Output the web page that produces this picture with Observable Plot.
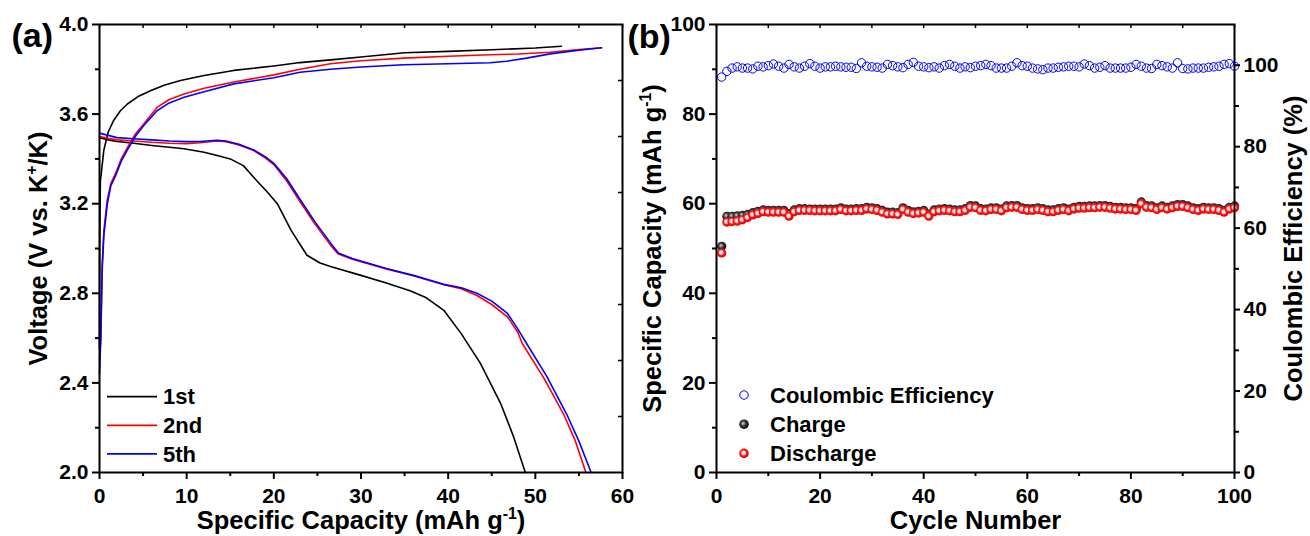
<!DOCTYPE html>
<html><head><meta charset="utf-8">
<script src="https://cdn.jsdelivr.net/npm/d3@7"></script>
<script src="https://cdn.jsdelivr.net/npm/@observablehq/plot@0.6"></script>
<style>
html,body{margin:0;padding:0;background:#fff;}
#wrap{position:relative;width:1310px;height:536px;overflow:hidden;}
#wrap svg{overflow:visible;position:absolute;top:0;}
#wrap svg text{font-weight:bold !important;font-family:'Liberation Sans', Arial, sans-serif !important;}
#wrap svg text.tick{font-size:21px !important;}
</style></head><body>
<svg width="0" height="0" style="position:absolute">
<defs>
<radialGradient id="sphBlack" cx="0.42" cy="0.42" r="0.6"><stop offset="0" stop-color="#d8d8d8"/><stop offset="0.45" stop-color="#3a3a3a"/><stop offset="1" stop-color="#000"/></radialGradient>
<radialGradient id="sphRed" cx="0.45" cy="0.45" r="0.6"><stop offset="0" stop-color="#ffffff"/><stop offset="0.3" stop-color="#ffd8d8"/><stop offset="0.55" stop-color="#ff1010"/><stop offset="1" stop-color="#e00000"/></radialGradient>
</defs></svg>
<div id="wrap"></div>
<script>
// ---------- Panel (a): voltage profiles, [capacity mAh/g, voltage V] ----------
const firstCharge = [[0,2.55],[0.02,3.0],[0.1,3.3],[0.5,3.44],[1.0,3.52],[1.6,3.57],[2.4,3.615],[3.2,3.645],[4.5,3.68],[5.9,3.705],[7.5,3.73],[9.3,3.75],[12,3.772],[15.4,3.795],[20,3.815],[23,3.83],[26.5,3.842],[30,3.855],[35,3.874],[40,3.88],[45,3.887],[50,3.895],[53,3.903]];
const firstDischarge = [[0,3.495],[1,3.485],[2,3.478],[3.93,3.47],[6,3.46],[8,3.452],[9.7,3.445],[12,3.43],[13.5,3.415],[15,3.40],[16.5,3.37],[18.1,3.30],[19.3,3.25],[20.4,3.20],[22,3.08],[23.8,2.97],[25.3,2.935],[26.5,2.92],[30,2.88],[33,2.845],[35.7,2.81],[37.5,2.78],[39.5,2.724],[41.5,2.62],[43.7,2.487],[46.0,2.31],[47.5,2.16],[48.85,2.0]];
const secondCharge = [[0,2.5],[0.15,2.6],[0.3,2.92],[0.5,3.08],[0.88,3.215],[1.3,3.29],[1.83,3.334],[2.5,3.40],[3.2,3.45],[4.1,3.51],[5.1,3.557],[6.6,3.63],[8,3.665],[9.7,3.69],[12,3.715],[15.4,3.743],[20,3.775],[23,3.80],[26.5,3.825],[30,3.838],[34.9,3.85],[40,3.858],[44.8,3.865],[48,3.868],[51.7,3.876],[55,3.888],[57.6,3.896]];
const secondDischarge = [[0,3.50],[1,3.492],[2,3.485],[3.93,3.48],[6,3.474],[8,3.47],[10,3.468],[11.5,3.472],[13.5,3.48],[14.5,3.477],[16,3.462],[17.7,3.437],[19,3.405],[20,3.375],[21.5,3.30],[23,3.21],[24.7,3.11],[26.5,3.015],[27.4,2.975],[29,2.952],[33,2.908],[36,2.878],[39.5,2.838],[41.5,2.82],[43.3,2.79],[45,2.75],[46.8,2.695],[48,2.625],[48.5,2.576],[51,2.42],[53.25,2.26],[54.6,2.14],[55.8,2.0]];
const fifthCharge = [[0,2.44],[0.15,2.6],[0.3,2.9],[0.5,3.06],[0.9,3.2],[1.3,3.28],[1.9,3.33],[2.5,3.39],[3.2,3.44],[4.1,3.50],[5.1,3.55],[6.6,3.615],[8,3.65],[9.7,3.675],[12,3.70],[15.4,3.735],[20,3.762],[23,3.787],[26.5,3.80],[30,3.81],[34.9,3.82],[40,3.825],[44.8,3.829],[46.7,3.836],[49,3.85],[51.7,3.869],[55,3.885],[57.6,3.896]];
const fifthDischarge = [[0,3.515],[1,3.505],[2,3.495],[3.93,3.49],[6,3.485],[8,3.48],[10,3.477],[11.5,3.478],[13.5,3.483],[14.5,3.48],[16,3.465],[17.7,3.44],[19,3.41],[20,3.38],[21.5,3.31],[23,3.22],[24.7,3.12],[26.5,3.025],[27.4,2.98],[29,2.955],[33,2.91],[36,2.88],[39.5,2.84],[41.5,2.825],[43.3,2.80],[45,2.765],[46.8,2.71],[48,2.64],[49,2.576],[51.3,2.43],[53.6,2.26],[55,2.14],[56.4,2.0]];
const cycleNames = ["1st","2nd","5th"];
const cycleColors = ["#000000","#ff0000","#0000ff"];
const capTicksA = [0,10,20,30,40,50,60];
const capMinorA = [5,15,25,35,45,55];
const voltTicks = [2.0,2.4,2.8,3.2,3.6,4.0];
const voltMinor = [2.2,2.6,3.0,3.4,3.8];
const voltRightTicks = [2.25,2.5,2.75,3.0,3.25,3.5,3.75];

// ---------- Panel (b): cycling ----------
const cycles = d3.range(1, 101);
const chargeCap = [50.5,57.2,57.2,57.3,57.4,57.6,58.0,58.3,58.6,58.5,58.5,58.5,58.5,57.8,58.6,58.9,58.9,58.8,58.8,58.8,58.8,58.8,58.8,59.1,58.8,58.8,58.9,58.9,59.2,59.1,58.9,58.5,58.1,58.1,58.0,59.1,58.5,58.2,58.3,58.5,57.7,58.6,58.8,58.9,58.8,58.6,58.6,58.9,59.6,59.5,58.9,58.8,59.1,59.1,58.8,59.5,59.6,59.6,59.1,58.9,58.9,59.1,58.9,58.6,58.6,58.9,59.1,58.8,59.2,59.4,59.4,59.5,59.5,59.6,59.6,59.4,59.2,59.2,59.1,59.1,58.9,60.4,59.6,59.5,59.1,59.5,59.2,59.5,59.8,59.8,59.5,59.1,58.9,59.2,59.1,59.1,58.9,58.5,59.2,59.5];
const dischargeCap = [49.0,55.9,56.0,56.1,56.4,56.9,57.5,57.8,58.2,58.1,58.1,58.1,58.1,57.2,58.2,58.5,58.5,58.5,58.4,58.4,58.4,58.4,58.4,58.7,58.4,58.4,58.5,58.5,58.8,58.7,58.5,58.1,57.7,57.7,57.6,58.7,58.1,57.8,57.9,58.1,57.2,58.2,58.4,58.5,58.4,58.2,58.2,58.5,59.2,59.1,58.5,58.4,58.7,58.7,58.4,59.1,59.2,59.2,58.7,58.5,58.5,58.7,58.5,58.2,58.2,58.5,58.7,58.4,58.8,59.0,59.0,59.1,59.1,59.2,59.2,59.0,58.8,58.8,58.7,58.7,58.5,60.0,59.2,59.1,58.7,59.1,58.8,59.1,59.4,59.4,59.1,58.7,58.5,58.8,58.7,58.7,58.5,58.1,58.8,59.1];
const coulombicEff = [97.1,98.5,99.3,99.6,99.3,99.3,99.1,99.75,99.6,99.9,100.3,99.75,99.3,100.2,99.6,99.3,99.75,100.4,99.75,99.3,99.6,99.6,99.75,99.6,99.5,99.5,99.2,100.6,99.75,99.6,99.5,99.3,100.2,99.9,99.6,99.4,100.2,100.7,99.75,99.6,99.4,99.6,99.3,99.9,100.2,99.75,99.3,99.6,99.4,99.75,99.9,100.2,99.9,99.3,99.3,99.3,99.75,100.6,99.9,99.75,99.3,99.1,98.9,99.3,99.3,99.5,99.6,99.75,99.75,99.6,100.3,99.9,99.3,99.5,99.9,99.3,99.3,99.3,99.3,99.5,100.2,99.75,99.3,99.2,100.2,99.9,99.6,99.3,100.6,99.2,99.1,99.3,99.3,99.3,99.5,99.6,99.75,100.2,100.4,99.75];
const cycleTicks = [0,20,40,60,80,100];
const cycleMinor = [10,30,50,70,90];
const capTicksB = [0,20,40,60,80,100];
const capMinorB = [10,30,50,70,90];
const ceTicks = [0,20,40,60,80,100];
const ceMinor = [10,30,50,70,90];
const legendB = ["Coulombic Efficiency","Charge","Discharge"];

const FONT = "'Liberation Sans', Arial, sans-serif";
const W = 1310, H = 536, MT = 24, MB = 64;
const baseStyle = {fontFamily: FONT, fontWeight: "bold", fontSize: "21px", color: "#000", background: "transparent", overflow: "visible"};
const TITLE = {fontSize: 25.5, fontWeight: "bold", textAnchor: "middle", lineAnchor: "middle"};
const wrap = document.getElementById("wrap");

function superscript(svg, full, pre, sup, post, size) {
  d3.select(svg).selectAll("text").filter(function(){ return this.textContent === full; }).each(function(){
    const t = d3.select(this); t.text(null);
    t.append("tspan").text(pre);
    t.append("tspan").attr("dy", -size*0.38).attr("font-size", size*0.62).text(sup);
    t.append("tspan").attr("dy", size*0.38).text(post);
  });
}
// tick labels: numeric texts get the tick class (bold 21px via CSS)
function boldTicks(svg) {
  d3.select(svg).selectAll("text").filter(function(){ return /^[0-9.\u2212-]+$/.test(this.textContent.trim()); })
    .classed("tick", true);
}

// ---------- Plot A ----------
const AW = 640, AL = 99, AR = 18;
const innerHA = H - MT - MB, innerWA = AW - AL - AR;
const curvesA = [[firstCharge, firstDischarge],[secondCharge, secondDischarge],[fifthCharge, fifthDischarge]];
const plotA = Plot.plot({
  width: AW, height: H, marginLeft: AL, marginRight: AR, marginTop: MT, marginBottom: MB,
  style: baseStyle,
  x: {domain: [0, 60]}, y: {domain: [2, 4]},
  marks: [
    ...curvesA.flatMap((pair, i) => pair.map(c => Plot.line(c, {x: d => d[0], y: d => d[1], stroke: cycleColors[i], strokeWidth: 1.6}))),
    Plot.axisX(capTicksA, {tickSize: 7, tickPadding: 9, strokeWidth: 2, fontSize: 21, fontWeight: "bold", label: null}),
    Plot.axisX(capMinorA, {tickSize: 4, strokeWidth: 2, fill: "none", label: null}),
    Plot.axisY(voltTicks, {tickSize: 7, tickPadding: 4, strokeWidth: 2, fontSize: 21, fontWeight: "bold", tickFormat: d3.format(".1f"), label: null}),
    Plot.axisY(voltMinor, {tickSize: 4, strokeWidth: 2, fill: "none", label: null}),
    Plot.tickX(capMinorA.concat(capTicksA), {x: d => d, insetBottom: innerHA - 4, strokeWidth: 1.5}),
    Plot.tickY(voltRightTicks, {y: d => d, insetLeft: innerWA - 4, strokeWidth: 1.5}),
    Plot.frame({strokeWidth: 2}),
    Plot.text(["Specific Capacity (mAh g-1)"], {...TITLE, text: d => d, frameAnchor: "bottom", dy: 48}),
    Plot.text(["Voltage (V vs. K+/K)"], {...TITLE, text: d => d, frameAnchor: "left", rotate: -90, dx: -61}),
    Plot.text(["(a)"], {text: d => d, frameAnchor: "top-left", textAnchor: "start", lineAnchor: "middle", dx: -88, dy: 12, fontSize: 34, fontWeight: "bold"})
  ]
});
plotA.style.left = "0px";
wrap.appendChild(plotA);
boldTicks(plotA);
superscript(plotA, "Specific Capacity (mAh g-1)", "Specific Capacity (mAh g", "-1", ")", 25.5);
superscript(plotA, "Voltage (V vs. K+/K)", "Voltage (V vs. K", "+", "/K)", 25.5);

// legend A
const legA = d3.create("svg").attr("width", 300).attr("height", 120).style("left", "100px").style("top", "380px");
cycleNames.forEach((n, i) => {
  const y = 16.7 + i * 28.6;
  legA.append("line").attr("x1", 7).attr("x2", 57).attr("y1", y).attr("y2", y).attr("stroke", cycleColors[i]).attr("stroke-width", 1.8);
  legA.append("text").attr("x", 63).attr("y", y).attr("dy", "0.35em").attr("font-family", FONT).attr("font-weight", "bold").attr("font-size", 22).text(n);
});
wrap.appendChild(legA.node());

// ---------- Plot B ----------
const BX = 620, BW = 690, BL = 96, BR = 76;
const innerWB = BW - BL - BR, innerHB = H - MT - MB;
const capRows = cycles.map((c, i) => ({cycle: c, charge: chargeCap[i], discharge: dischargeCap[i], ce: coulombicEff[i]}));
const plotB1 = Plot.plot({
  width: BW, height: H, marginLeft: BL, marginRight: BR, marginTop: MT, marginBottom: MB,
  style: baseStyle,
  x: {domain: [0, 100]}, y: {domain: [0, 100]},
  marks: [
    Plot.dot(capRows, {x: "cycle", y: "charge", r: 4.6, fill: "url(#sphBlack)", stroke: "none"}),
    Plot.dot(capRows, {x: "cycle", y: "discharge", r: 4.6, fill: "url(#sphRed)", stroke: "none"}),
    Plot.axisX(cycleTicks, {tickSize: 7, tickPadding: 9, strokeWidth: 2, fontSize: 21, fontWeight: "bold", label: null}),
    Plot.axisX(cycleMinor, {tickSize: 4, strokeWidth: 2, fill: "none", label: null}),
    Plot.axisY(capTicksB, {tickSize: 7, tickPadding: 4, strokeWidth: 2, fontSize: 21, fontWeight: "bold", label: null}),
    Plot.axisY(capMinorB, {tickSize: 4, strokeWidth: 2, fill: "none", label: null}),
    Plot.tickX(cycleMinor.concat(cycleTicks), {x: d => d, insetBottom: innerHB - 4, strokeWidth: 1.5}),
    Plot.frame({strokeWidth: 2}),
    Plot.text(["Cycle Number"], {...TITLE, text: d => d, frameAnchor: "bottom", dy: 48}),
    Plot.text(["Specific Capacity (mAh g-1)"], {...TITLE, text: d => d, frameAnchor: "left", rotate: -90, dx: -64}),
    Plot.text(["(b)"], {text: d => d, frameAnchor: "top-left", textAnchor: "start", lineAnchor: "middle", dx: -89, dy: 13, fontSize: 34, fontWeight: "bold"})
  ]
});
plotB1.style.left = BX + "px";
wrap.appendChild(plotB1);
boldTicks(plotB1);
superscript(plotB1, "Specific Capacity (mAh g-1)", "Specific Capacity (mAh g", "-1", ")", 25.5);

const plotB2 = Plot.plot({
  width: BW, height: H, marginLeft: BL, marginRight: BR, marginTop: MT, marginBottom: MB,
  style: baseStyle,
  x: {domain: [0, 100], axis: null}, y: {domain: [0, 110]},
  marks: [
    Plot.dot(capRows, {x: "cycle", y: "ce", r: 4.2, fill: "none", stroke: "#0000ff", strokeWidth: 1}),
    Plot.axisY(ceTicks, {anchor: "right", tickSize: 5, tickPadding: 4, strokeWidth: 2, fontSize: 21, fontWeight: "bold", label: null}),
    Plot.axisY(ceMinor, {anchor: "right", tickSize: 4, strokeWidth: 2, fill: "none", label: null}),
    Plot.text(["Coulombic Efficiency (%)"], {...TITLE, text: d => d, frameAnchor: "right", rotate: -90, dx: 59})
  ]
});
plotB2.style.left = BX + "px";
wrap.appendChild(plotB2);
boldTicks(plotB2);

// legend B
const legB = d3.create("svg").attr("width", 320).attr("height", 120).style("left", "730px").style("top", "380px");
legendB.forEach((n, i) => {
  const y = 15 + i * 29.2;
  const c = legB.append("circle").attr("cx", 14).attr("cy", y);
  if (i === 0) c.attr("r", 4.2).attr("fill", "none").attr("stroke", "#0000ff").attr("stroke-width", 1);
  else c.attr("r", 4.8).attr("fill", i === 1 ? "url(#sphBlack)" : "url(#sphRed)");
  legB.append("text").attr("x", 40).attr("y", y).attr("dy", "0.35em").attr("font-family", FONT).attr("font-weight", "bold").attr("font-size", 22).text(n);
});
wrap.appendChild(legB.node());
</script>
</body></html>
